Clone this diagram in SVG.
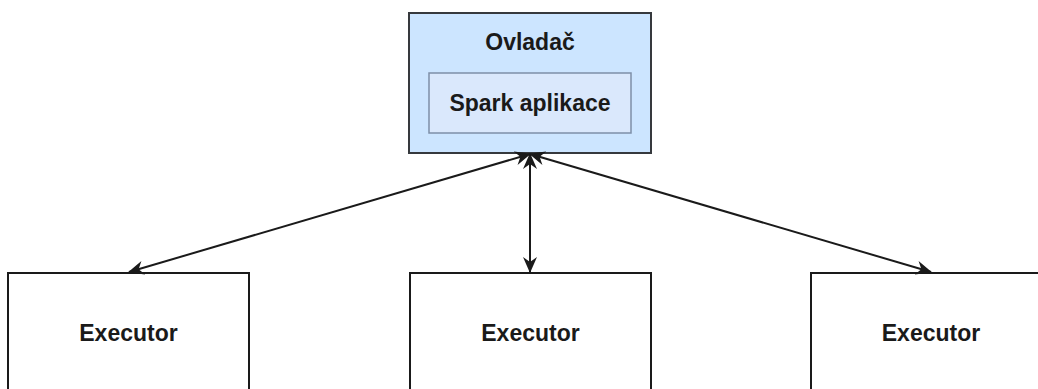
<svg xmlns="http://www.w3.org/2000/svg" width="1038" height="389" viewBox="0 0 1038 389">
<style>
.t{font-family:"Liberation Sans",Arial,sans-serif;font-weight:bold;font-size:23px;fill:#1a1a1a;text-anchor:middle}
.exe{fill:#ffffff;stroke:#1a1a1a;stroke-width:2}
.edge{fill:none;stroke:#1a1a1a;stroke-width:2}
</style>
<defs>
<marker id="arr" markerUnits="userSpaceOnUse" markerWidth="16" markerHeight="14" refX="15" refY="7" orient="auto-start-reverse" viewBox="0 0 16 14">
<path d="M0,0 L16,7 L0,14 L5,7 Z" fill="#1a1a1a"/>
</marker>
</defs>
<rect width="1038" height="389" fill="#ffffff"/>
<g id="ovladac">
<rect x="409" y="13" width="242" height="140" fill="#cce5ff" stroke="#36393d" stroke-width="2"/>
<text class="t" x="530" y="50">Ovladač</text>
</g>
<g id="spark-aplikace">
<rect x="429" y="73" width="202" height="60" fill="#dae8fc" stroke="#7d8fa8" stroke-width="1.5"/>
<text class="t" x="530" y="111">Spark aplikace</text>
</g>
<g id="executor-1">
<rect class="exe" x="8" y="273" width="241" height="130"/>
<text class="t" x="128.5" y="341">Executor</text>
</g>
<g id="executor-2">
<rect class="exe" x="410" y="273" width="241" height="130"/>
<text class="t" x="530.5" y="341">Executor</text>
</g>
<g id="executor-3">
<rect class="exe" x="811" y="273" width="241" height="130"/>
<text class="t" x="931" y="341">Executor</text>
</g>
<g id="connectors">
<line class="edge" x1="530" y1="154" x2="129" y2="272" marker-start="url(#arr)" marker-end="url(#arr)"/>
<line class="edge" x1="530" y1="154" x2="530" y2="272" marker-start="url(#arr)" marker-end="url(#arr)"/>
<line class="edge" x1="530" y1="154" x2="931" y2="272" marker-start="url(#arr)" marker-end="url(#arr)"/>
</g>
</svg>
